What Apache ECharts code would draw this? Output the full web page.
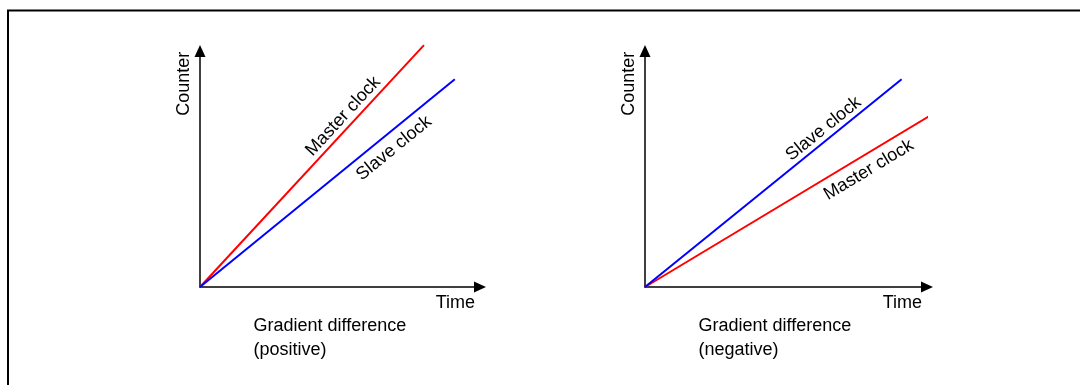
<!DOCTYPE html>
<html><head><meta charset="utf-8">
<script src="https://cdn.jsdelivr.net/npm/echarts@6/dist/echarts.min.js"></script>
<style>html,body{margin:0;padding:0;background:#fff}#c{width:1080px;height:385px}</style>
</head><body><div id="c"></div>
<script>
// ---- data ----
const axisMin = 0;
const axisMax = 100;
const panelCaptions = ['Gradient difference\n(positive)', 'Gradient difference\n(negative)'];
const xAxisName = 'Time';
const yAxisName = 'Counter';
const seriesNames = ['Master clock', 'Slave clock'];
const masterPositive = [[0, 0], [80, 102.5]];
const slavePositive = [[0, 0], [91, 88]];
const masterNegative = [[0, 0], [102, 73.3]];
const slaveNegative = [[0, 0], [91, 88]];

// ---- styling / layout ----
const FONT = 'Arial, "Liberation Sans", sans-serif';
const RED = '#ff0000', BLUE = '#0000ff';
const grids = [
  {left: 200, top: 51, width: 280, height: 236},
  {left: 645, top: 51, width: 282, height: 236}
];
const panels = [
  {lines: [
    {name: seriesNames[0], data: masterPositive, color: RED, t: 0.675, off: 11},
    {name: seriesNames[1], data: slavePositive, color: BLUE, t: 0.724, off: -15}
  ]},
  {lines: [
    {name: seriesNames[0], data: masterNegative, color: RED, t: 0.751, off: -15},
    {name: seriesNames[1], data: slaveNegative, color: BLUE, t: 0.722, off: 10.6}
  ]}
];

function axis(gi) {
  return {
    type: 'value', gridIndex: gi, min: axisMin, max: axisMax,
    axisLine: {show: true, onZero: false, symbol: ['none', 'triangle'], symbolSize: [11, 12],
      lineStyle: {color: '#000', width: 1.5}},
    axisTick: {show: false}, axisLabel: {show: false}, splitLine: {show: false}
  };
}

const series = [];
panels.forEach((p, gi) => {
  p.lines.forEach(l => {
    series.push({
      type: 'line', name: l.name, xAxisIndex: gi, yAxisIndex: gi,
      data: l.data, symbol: 'none', clip: false, silent: true,
      lineStyle: {color: l.color, width: 2}, z: 3
    });
  });
});

const chart = echarts.init(document.getElementById('c'), null, {renderer: 'canvas'});
chart.setOption({
  animation: false,
  backgroundColor: '#fff',
  grid: grids,
  xAxis: [axis(0), axis(1)],
  yAxis: [axis(0), axis(1)],
  series: series
});

function txt(text, x, y, opts) {
  return Object.assign({
    type: 'text', x: x, y: y, silent: true, z: 10,
    style: Object.assign({
      text: text, fontSize: 18, fontFamily: FONT, fill: '#000',
      align: 'center', verticalAlign: 'middle'
    }, opts.style || {})
  }, opts.el || {});
}

const graphics = [{
  type: 'rect', silent: true, z: 0,
  shape: {x: 8, y: 10.5, width: 1200, height: 600},
  style: {fill: 'none', stroke: '#000', lineWidth: 2}
}];

panels.forEach((p, gi) => {
  const origin = chart.convertToPixel({gridIndex: gi}, [axisMin, axisMin]);
  const xEnd = chart.convertToPixel({gridIndex: gi}, [axisMax, axisMin]);
  const yEnd = chart.convertToPixel({gridIndex: gi}, [axisMin, axisMax]);
  // axis names
  graphics.push(txt(xAxisName, xEnd[0] - 5, xEnd[1] + 15.7, {style: {align: 'right'}}));
  graphics.push(txt(yAxisName, yEnd[0] - 16, yEnd[1] + 0.7, {style: {align: 'right'}, el: {rotation: Math.PI / 2}}));
  // caption
  graphics.push(txt(panelCaptions[gi], origin[0] + 53.5, origin[1] + 27, {style: {align: 'left', verticalAlign: 'top', lineHeight: 24}}));
  // line labels
  p.lines.forEach(l => {
    const a = chart.convertToPixel({gridIndex: gi}, l.data[0]);
    const b = chart.convertToPixel({gridIndex: gi}, l.data[l.data.length - 1]);
    const dx = b[0] - a[0], dy = b[1] - a[1];
    const len = Math.sqrt(dx * dx + dy * dy);
    const nx = dy / len, ny = -dx / len;
    const cx = a[0] + l.t * dx + l.off * nx;
    const cy = a[1] + l.t * dy + l.off * ny;
    graphics.push(txt(l.name, cx, cy, {el: {rotation: Math.atan2(-dy, dx)}}));
  });
});

chart.setOption({graphic: graphics});
</script>
</body></html>
